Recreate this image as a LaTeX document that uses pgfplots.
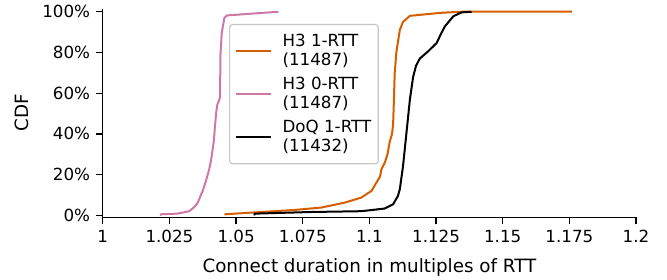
\documentclass[border=0pt]{standalone}
\usepackage{fontspec}
\setmainfont{DejaVu Sans}
\usepackage{pgfplots}
\pgfplotsset{compat=1.18}
\definecolor{corange}{RGB}{213,94,0}
\definecolor{cpink}{RGB}{204,121,167}
\begin{document}
\fontsize{16.7bp}{20bp}\selectfont
\begin{tikzpicture}
\useasboundingbox (0,0) rectangle (667bp,280bp);
\begin{axis}[
  at={(102.8bp,62.7bp)}, anchor=south west,
  scale only axis, width=533.2bp, height=208.6bp,
  xmin=1, xmax=1.2, ymin=-1, ymax=101.5,
  axis x line*=bottom, axis y line*=left,
  axis line style={line width=1.3bp, -},
  tick align=outside, major tick length=7bp,
  tick style={line width=1.3bp, black},
  xtick={1,1.025,1.05,1.075,1.1,1.125,1.15,1.175,1.2},
  xticklabels={1,1.025,1.05,1.075,1.1,1.125,1.15,1.175,1.2},
  ytick={0,20,40,60,80,100},
  yticklabels={0\%,20\%,40\%,60\%,80\%,100\%},
  ticklabel style={font=\fontsize{16.7bp}{20bp}\selectfont},
  xlabel={Connect duration in multiples of RTT},
  ylabel={CDF},
  every axis x label/.style={font=\fontsize{18.3bp}{22bp}\selectfont, at={(axis description cs:0.5,-0.2625)}, anchor=base},
  every axis y label/.style={font=\fontsize{18.3bp}{22bp}\selectfont, at={(axis description cs:-0.1525,0.5)}, anchor=center, rotate=90},
  /pgf/number format/assume math mode=true,
  legend style={at={(0.2367,0.9267)}, anchor=north west, draw=black!22,
    rounded corners=3bp, line width=1.2bp, fill=white,
    font=\fontsize{16.7bp}{19.5bp}\selectfont, nodes={align=left, inner sep=2bp},
    inner xsep=5bp, inner ysep=7.5bp, row sep=4.5bp, column sep=9bp},
  legend cell align=left,
  legend image code/.code={\draw[#1, line width=2bp] (0bp,0bp) -- (35bp,0bp);},
]
\addplot[corange, line width=2bp] coordinates {
(1.0459,0) (1.046,0.5) (1.0594,1.6) (1.0719,2.6) (1.082,3.8) (1.0907,6.2)
(1.097,8.7) (1.1008,12) (1.1026,16) (1.104,19) (1.1045,22.5) (1.1058,26)
(1.1068,30) (1.1076,36) (1.1085,40) (1.1089,45) (1.1092,57) (1.1095,70)
(1.1101,80) (1.1114,91) (1.1126,95) (1.1152,98) (1.127,99.5) (1.1346,100) (1.176,100)
};
\addlegendentry{H3 1-RTT\\(11487)}
\addplot[cpink, line width=2bp] coordinates {
(1.0215,0) (1.022,0.5) (1.028,0.8) (1.0324,2) (1.0343,4) (1.0355,6) (1.0362,8)
(1.0368,10) (1.0375,12) (1.0387,17) (1.0398,22) (1.0406,27) (1.0416,36)
(1.0421,44) (1.0425,50) (1.0429,54) (1.044,58) (1.0441,78) (1.0446,89.5)
(1.0456,97) (1.0466,98.2) (1.0659,100)
};
\addlegendentry{H3 0-RTT\\(11487)}
\addplot[black, line width=2bp] coordinates {
(1.0568,0) (1.057,0.8) (1.078,1.6) (1.097,2) (1.1057,3.3) (1.1089,5.4)
(1.1107,9.5) (1.1114,12.7) (1.1126,24) (1.1139,40.5) (1.1152,57) (1.1164,68)
(1.1175,73.5) (1.1189,77) (1.122,80.5) (1.1252,84.6) (1.1268,89) (1.1283,92.8)
(1.1315,97.8) (1.1346,99.7) (1.1383,100)
};
\addlegendentry{DoQ 1-RTT\\(11432)}
\end{axis}
\end{tikzpicture}
\end{document}
